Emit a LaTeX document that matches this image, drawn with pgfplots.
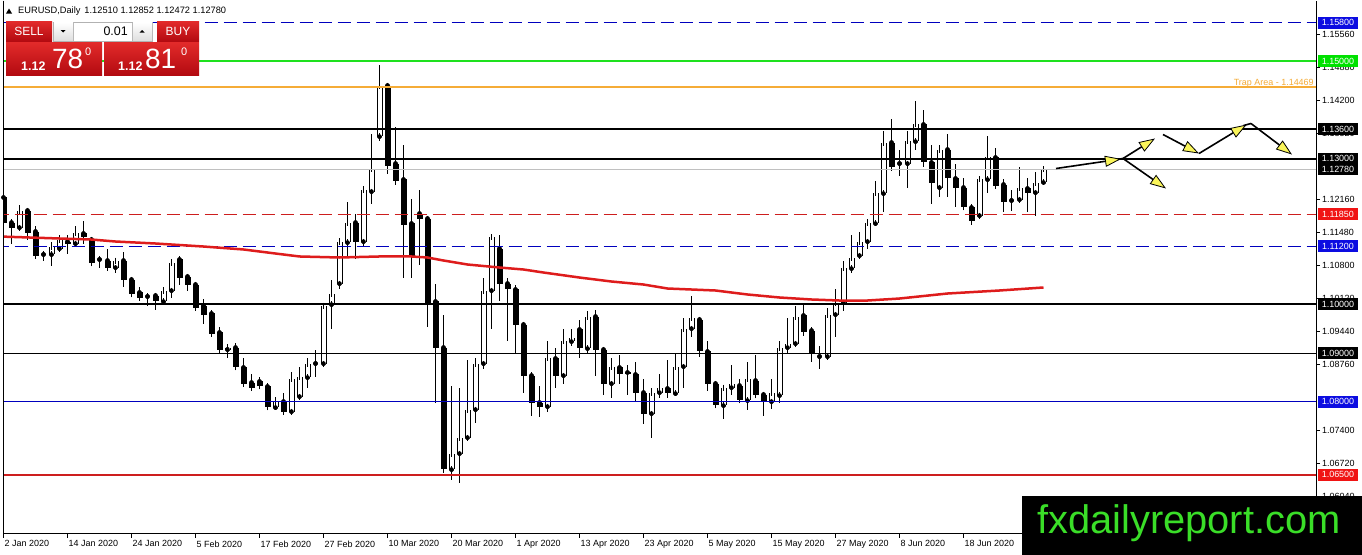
\documentclass[border=0pt]{standalone}
\usepackage{fontspec}
\setmainfont{Liberation Sans}
\usepackage{pgfplots}
\pgfplotsset{compat=1.18}
\usepackage{pgfplotstable}
\usetikzlibrary{arrows.meta}

\definecolor{macol}{RGB}{222,28,28}
\definecolor{lineblue}{RGB}{0,0,190}
\definecolor{boxblue}{RGB}{12,12,225}
\definecolor{linegreen}{RGB}{30,225,30}
\definecolor{boxgreen}{RGB}{0,225,0}
\definecolor{lineorange}{RGB}{245,172,55}
\definecolor{linered}{RGB}{205,30,30}
\definecolor{boxred}{RGB}{240,20,20}
\definecolor{bidgray}{RGB}{192,192,192}
\definecolor{paneltop}{RGB}{226,42,42}
\definecolor{panelbot}{RGB}{178,10,16}
\definecolor{wmgreen}{RGB}{58,222,40}
\definecolor{arrowyellow}{RGB}{250,245,90}

\pgfplotstableread{
i o h l c
0 1.12200 1.12241 1.11603 1.11665
1 1.11685 1.11767 1.11253 1.11562
2 1.11582 1.12035 1.11521 1.11912
3 1.11932 1.11973 1.11315 1.11479
4 1.11500 1.11623 1.10965 1.11006
5 1.11027 1.11109 1.10903 1.11027
6 1.11027 1.11274 1.10800 1.11171
7 1.11150 1.11418 1.11088 1.11315
8 1.11294 1.11418 1.11027 1.11253
9 1.11253 1.11603 1.11212 1.11459
10 1.11459 1.11706 1.11253 1.11377
11 1.11335 1.11377 1.10821 1.10842
12 1.10924 1.10986 1.10739 1.10924
13 1.10903 1.11150 1.10759 1.10759
14 1.10759 1.10965 1.10656 1.10903
15 1.10903 1.11068 1.10348 1.10512
16 1.10512 1.10512 1.10163 1.10204
17 1.10245 1.10348 1.10080 1.10142
18 1.10163 1.10224 1.09957 1.10163
19 1.10183 1.10224 1.09895 1.10060
20 1.10060 1.10368 1.10019 1.10286
21 1.10286 1.10924 1.10142 1.10862
22 1.10924 1.10944 1.10389 1.10553
23 1.10574 1.10574 1.10286 1.10409
24 1.10409 1.10451 1.09916 1.09936
25 1.09977 1.10121 1.09607 1.09792
26 1.09813 1.09813 1.09381 1.09401
27 1.09422 1.09545 1.09031 1.09072
28 1.09072 1.09195 1.08887 1.09113
29 1.09113 1.09216 1.08640 1.08702
30 1.08702 1.08887 1.08372 1.08372
31 1.08393 1.08578 1.08249 1.08290
32 1.08414 1.08496 1.08270 1.08311
33 1.08311 1.08352 1.07837 1.07879
34 1.07879 1.08105 1.07817 1.08002
35 1.08002 1.08167 1.07735 1.07796
36 1.07796 1.08619 1.07796 1.08455
37 1.08105 1.08702 1.08023 1.08496
38 1.08496 1.08907 1.08290 1.08784
39 1.08784 1.09072 1.08516 1.08784
40 1.08784 1.10039 1.08763 1.09977
41 1.09998 1.10512 1.09484 1.10224
42 1.10430 1.11356 1.10327 1.11294
43 1.11274 1.12097 1.10965 1.11665
44 1.11685 1.11850 1.10924 1.11294
45 1.11294 1.12426 1.11171 1.12344
46 1.12323 1.13516 1.12056 1.12796
47 1.13455 1.14916 1.13352 1.14504
48 1.14504 1.14545 1.12693 1.12858
49 1.12899 1.13640 1.12467 1.12549
50 1.12570 1.13290 1.10533 1.11644
51 1.11665 1.12179 1.10533 1.11006
52 1.11870 1.12344 1.10821 1.11767
53 1.11767 1.11829 1.09525 1.10039
54 1.10060 1.10430 1.07981 1.09113
55 1.09113 1.09792 1.06521 1.06603
56 1.06603 1.08311 1.06377 1.06932
57 1.06932 1.08270 1.06335 1.07261
58 1.07261 1.08866 1.07261 1.07837
59 1.07837 1.08907 1.07570 1.08784
60 1.08784 1.10553 1.08681 1.10286
61 1.10286 1.11438 1.09504 1.11377
62 1.11150 1.11438 1.10080 1.10430
63 1.10430 1.10533 1.09257 1.10307
64 1.10307 1.10389 1.08990 1.09566
65 1.09586 1.09648 1.08167 1.08537
66 1.08537 1.08619 1.07714 1.07981
67 1.07981 1.08331 1.07673 1.07899
68 1.07899 1.09237 1.07796 1.08887
69 1.08887 1.09113 1.08290 1.08537
70 1.08537 1.09504 1.08372 1.09237
71 1.09237 1.09504 1.09154 1.09319
72 1.09484 1.09689 1.08907 1.09093
73 1.09093 1.09854 1.08990 1.09751
74 1.09751 1.09895 1.08537 1.09072
75 1.09072 1.09093 1.08126 1.08372
76 1.08372 1.08907 1.08084 1.08702
77 1.08702 1.08949 1.08372 1.08578
78 1.08599 1.08763 1.08126 1.08558
79 1.08558 1.08805 1.08002 1.08187
80 1.08187 1.08455 1.07529 1.07755
81 1.07755 1.08270 1.07261 1.08187
82 1.08187 1.08578 1.08084 1.08270
83 1.08270 1.08866 1.08084 1.08167
84 1.08167 1.08990 1.08167 1.08722
85 1.08722 1.09710 1.08290 1.09504
86 1.09504 1.10163 1.09319 1.09730
87 1.09689 1.09730 1.08928 1.09031
88 1.09031 1.09237 1.08228 1.08372
89 1.08372 1.08372 1.07899 1.07920
90 1.07920 1.08290 1.07652 1.08290
91 1.08290 1.08743 1.08126 1.08352
92 1.08331 1.08455 1.07981 1.08023
93 1.08023 1.08805 1.07817 1.08455
94 1.08434 1.08949 1.08105 1.08126
95 1.08146 1.08146 1.07714 1.08002
96 1.08002 1.08475 1.07858 1.08167
97 1.08126 1.09257 1.07981 1.09113
98 1.09113 1.09730 1.08990 1.09195
99 1.09195 1.09977 1.09154 1.09751
100 1.09772 1.10039 1.09340 1.09442
101 1.09463 1.09525 1.08825 1.08990
102 1.08928 1.09134 1.08681 1.08928
103 1.08928 1.09936 1.08907 1.09792
104 1.09792 1.10307 1.09319 1.10019
105 1.10039 1.10903 1.09874 1.10739
106 1.10739 1.11418 1.10656 1.10965
107 1.11006 1.11500 1.10986 1.11294
108 1.11294 1.11767 1.11130 1.11665
109 1.11665 1.12549 1.11623 1.12282
110 1.12282 1.13578 1.11891 1.13331
111 1.13331 1.13805 1.12755 1.12837
112 1.12899 1.13167 1.12632 1.12899
113 1.12899 1.13578 1.12385 1.13352
114 1.13352 1.14195 1.13167 1.13702
115 1.13702 1.14010 1.12837 1.12920
116 1.12920 1.13290 1.12076 1.12488
117 1.12405 1.13290 1.12220 1.13187
118 1.13187 1.13496 1.12220 1.12591
119 1.12591 1.12899 1.12014 1.12385
120 1.12405 1.12591 1.11994 1.11994
121 1.11994 1.12076 1.11644 1.11726
122 1.11829 1.12591 1.11829 1.12570
123 1.12570 1.13455 1.12282 1.13023
124 1.13023 1.13228 1.12426 1.12446
125 1.12467 1.12570 1.11891 1.12117
126 1.12138 1.12364 1.11912 1.12138
127 1.12158 1.12817 1.12158 1.12385
128 1.12385 1.12591 1.11891 1.12302
129 1.12302 1.12714 1.11829 1.12488
130 1.12510 1.12852 1.12472 1.12780
}\candles

\pgfplotstableread{
x y
-0.5 1.11397
7 1.11356
11 1.11335
14 1.11294
19 1.11253
25 1.11191
30 1.11130
34 1.11047
37 1.10986
42 1.10965
47 1.10986
51 1.10986
53 1.10965
55 1.10903
58 1.10821
62 1.10759
65 1.10718
67.5 1.10656
72 1.10553
76 1.10471
80 1.10409
83 1.10327
89 1.10286
93 1.10204
97 1.10142
101 1.10101
104.5 1.10080
108 1.10080
112 1.10121
118 1.10224
124.5 1.10286
130 1.10348
}\mavals

\tikzset{
  pbox/.style={minimum width=40bp, minimum height=12bp, inner sep=0pt, text=white, font=\fontsize{9}{9}\selectfont},
  yarrow/.style={black, line width=1.6bp, -{Triangle[length=16bp, width=11bp, fill=arrowyellow, line width=0.8bp]}},
}

\begin{document}
\begin{tikzpicture}
\fill[white] (0bp,0bp) rectangle (1362bp,-554bp);
\begin{axis}[
  at={(3bp,-533bp)}, anchor=south west,
  scale only axis, width=1313bp, height=533bp,
  xmin=-0.0625, xmax=164.0625, ymin=1.05286, ymax=1.16253,
  clip mode=individual,
  axis line style={draw=none},
  xtick={0,8,...,120},
  xticklabels={2 Jan 2020,14 Jan 2020,24 Jan 2020,5 Feb 2020,17 Feb 2020,27 Feb 2020,10 Mar 2020,20 Mar 2020,1 Apr 2020,13 Apr 2020,23 Apr 2020,5 May 2020,15 May 2020,27 May 2020,8 Jun 2020,18 Jun 2020},
  ytick={1.0604,1.0672,1.0740,1.0876,1.0944,1.1012,1.1080,1.1148,1.1216,1.1352,1.1420,1.1488,1.1556},
  xtick pos=bottom, ytick pos=right,
  tick align=outside, major tick length=4bp,
  tick style={black, line width=0.8bp},
  scaled y ticks=false,
  tick label style={font=\fontsize{9}{10}\selectfont, inner sep=0pt},
  xticklabel style={anchor=north west, xshift=1bp, yshift=-3bp},
  yticklabel style={anchor=west, xshift=2bp, /pgf/number format/.cd, fixed, fixed zerofill, precision=5, assume math mode=true},
]
% wicks
\addplot[only marks, mark=none, forget plot, error bars/.cd, y dir=both, y explicit, error mark=none, error bar style={black, line width=1bp}]
  table[x=i, y=o, y error plus expr=\thisrow{h}-\thisrow{o}, y error minus expr=\thisrow{o}-\thisrow{l}] {\candles};
% black bodies
\addplot[only marks, mark=none, forget plot, x filter/.expression={\thisrow{c}<\thisrow{o} ? x : nan}, error bars/.cd, y dir=both, y explicit, error mark=-, error mark options={black, mark size=3bp, line width=1bp}, error bar style={black, line width=6bp}]
  table[x=i, y=o, y error plus expr=0, y error minus expr=\thisrow{o}-\thisrow{c}] {\candles};
% white bodies: outline
\addplot[only marks, mark=none, forget plot, x filter/.expression={\thisrow{c}<\thisrow{o} ? nan : x}, error bars/.cd, y dir=both, y explicit, error mark=none, error bar style={black, line width=6bp}]
  table[x=i, y=o, y error plus expr=\thisrow{c}-\thisrow{o}, y error minus expr=0] {\candles};
% white bodies: fill
\addplot[only marks, mark=none, forget plot, x filter/.expression={\thisrow{c}<\thisrow{o} ? nan : x}, error bars/.cd, y dir=both, y explicit, error mark=-, error mark options={black, mark size=3bp, line width=1bp}, error bar style={white, line width=4bp}]
  table[x=i, y=o, y error plus expr=\thisrow{c}-\thisrow{o}, y error minus expr=0] {\candles};

% horizontal levels
\addplot[lineblue, line width=1bp, dash pattern=on 13bp off 6bp, forget plot] coordinates {(-1,1.158) (170,1.158)};
\addplot[linegreen, line width=2bp, forget plot] coordinates {(-1,1.150) (170,1.150)};
\addplot[lineorange, line width=2bp, forget plot] coordinates {(-1,1.14469) (170,1.14469)};
\addplot[black, line width=2bp, forget plot] coordinates {(-1,1.136) (170,1.136)};
\addplot[black, line width=2bp, forget plot] coordinates {(-1,1.130) (170,1.130)};
\addplot[bidgray, line width=0.8bp, forget plot] coordinates {(-1,1.1278) (170,1.1278)};
\addplot[linered, line width=1bp, dash pattern=on 13bp off 6bp, forget plot] coordinates {(-1,1.1185) (170,1.1185)};
\addplot[lineblue, line width=1bp, dash pattern=on 13bp off 6bp, forget plot] coordinates {(-1,1.112) (170,1.112)};
\addplot[black, line width=2bp, forget plot] coordinates {(-1,1.100) (170,1.100)};
\addplot[black, line width=1bp, forget plot] coordinates {(-1,1.090) (170,1.090)};
\addplot[lineblue, line width=1bp, forget plot] coordinates {(-1,1.080) (170,1.080)};
\addplot[linered, line width=2bp, forget plot] coordinates {(-1,1.065) (170,1.065)};

% moving average
\addplot[macol, line width=2.5bp, mark=none, forget plot] table[x=x, y=y] {\mavals};

\node[anchor=east, inner sep=0pt, text=lineorange, font=\fontsize{9}{10}\selectfont] at (axis cs:163.8,1.14545) {Trap Area - 1.14469};

% arrows
\draw[yarrow] (axis cs:131.5625,1.12796) -- (axis cs:139.6875,1.12992);
\draw[black, line width=1.6bp] (axis cs:139.3,1.12985) -- (axis cs:139.9375,1.13002);
\draw[yarrow] (axis cs:139.9375,1.13002) -- (axis cs:143.9375,1.13414);
\draw[yarrow] (axis cs:139.9375,1.13002) -- (axis cs:145.3125,1.12385);
\draw[yarrow] (axis cs:144.9375,1.13496) -- (axis cs:149.4375,1.13105);
\draw[yarrow] (axis cs:149.4375,1.13105) -- (axis cs:155.4,1.13700);
\draw[black, line width=1.6bp] (axis cs:155.0,1.13680) -- (axis cs:155.9375,1.13722);
\draw[yarrow] (axis cs:155.9375,1.13722) -- (axis cs:161.0625,1.13084);

\coordinate (b1) at (axis cs:164.0625,1.158);
\coordinate (b2) at (axis cs:164.0625,1.150);
\coordinate (b3) at (axis cs:164.0625,1.136);
\coordinate (b4) at (axis cs:164.0625,1.130);
\coordinate (b5) at (axis cs:164.0625,1.1278);
\coordinate (b6) at (axis cs:164.0625,1.1185);
\coordinate (b7) at (axis cs:164.0625,1.112);
\coordinate (b8) at (axis cs:164.0625,1.100);
\coordinate (b9) at (axis cs:164.0625,1.090);
\coordinate (b10) at (axis cs:164.0625,1.080);
\coordinate (b11) at (axis cs:164.0625,1.065);
\end{axis}

% price boxes on the right axis
\node[pbox, fill=boxblue] at ([xshift=22bp]b1) {1.15800};
\node[pbox, fill=boxgreen] at ([xshift=22bp]b2) {1.15000};
\node[pbox, fill=black] at ([xshift=22bp]b3) {1.13600};
\node[pbox, fill=black] at ([xshift=22bp]b4) {1.13000};
\node[pbox, fill=black] at ([xshift=22bp]b5) {1.12780};
\node[pbox, fill=boxred] at ([xshift=22bp]b6) {1.11850};
\node[pbox, fill=boxblue] at ([xshift=22bp]b7) {1.11200};
\node[pbox, fill=black] at ([xshift=22bp]b8) {1.10000};
\node[pbox, fill=black] at ([xshift=22bp]b9) {1.09000};
\node[pbox, fill=boxblue] at ([xshift=22bp]b10) {1.08000};
\node[pbox, fill=boxred] at ([xshift=22bp]b11) {1.06500};

\begin{scope}[x=1bp, y=-1bp]
% frame
\draw[black, line width=1bp] (3,0) -- (3,533) -- (1316,533) -- (1316,0);
% header
\fill[black] (6,13) -- (12,13) -- (9,8) -- cycle;
\node[anchor=west, inner sep=0pt, font=\fontsize{9.3}{10}\selectfont] at (18,11) {EURUSD,Daily\hspace{4bp}1.12510 1.12852 1.12472 1.12780};
% one click panel
\shade[top color=paneltop, bottom color=panelbot] (6,21) rectangle (52,41);
\node[text=white, font=\fontsize{12}{12}\selectfont] at (29,31) {SELL};
\draw[gray!60, fill=white] (53.5,21.5) rectangle (152.5,40.5);
\shade[top color=white, bottom color=gray!25] (54,22) rectangle (73,40);
\shade[top color=white, bottom color=gray!25] (133,22) rectangle (152,40);
\draw[gray!55] (73.5,22) -- (73.5,40);
\draw[gray!55] (132.5,22) -- (132.5,40);
\fill[black] (60.5,29.5) -- (65.5,29.5) -- (63,32) -- cycle;
\fill[black] (139.5,32) -- (144.5,32) -- (142,29.5) -- cycle;
\node[anchor=east, inner sep=0pt, font=\fontsize{12.5}{13}\selectfont] at (128,31) {0.01};
\shade[top color=paneltop, bottom color=panelbot] (157,21) rectangle (199,41);
\node[text=white, font=\fontsize{12}{12}\selectfont] at (178,31) {BUY};
\shade[top color=paneltop, bottom color=panelbot] (6,42) rectangle (102,75);
\shade[top color=paneltop, bottom color=panelbot] (104,42) rectangle (199,75);
\node[anchor=base west, inner sep=0pt, text=white, font=\fontsize{12.5}{13}\selectfont\bfseries] at (21,70) {1.12};
\node[anchor=base west, inner sep=0pt, text=white, font=\fontsize{28}{28}\selectfont] at (52,68) {78};
\node[anchor=base west, inner sep=0pt, text=white, font=\fontsize{11}{11}\selectfont] at (85,55) {0};
\node[anchor=base west, inner sep=0pt, text=white, font=\fontsize{12.5}{13}\selectfont\bfseries] at (118,70) {1.12};
\node[anchor=base west, inner sep=0pt, text=white, font=\fontsize{28}{28}\selectfont] at (145,68) {81};
\node[anchor=base west, inner sep=0pt, text=white, font=\fontsize{11}{11}\selectfont] at (181,55) {0};
% watermark
\fill[black] (1022,495) rectangle (1362,554);
\node[anchor=base west, inner sep=0pt, text=wmgreen, font=\fontsize{40}{40}\selectfont] at (1037,533) {fxdailyreport.com};
\end{scope}
\end{tikzpicture}
\end{document}
